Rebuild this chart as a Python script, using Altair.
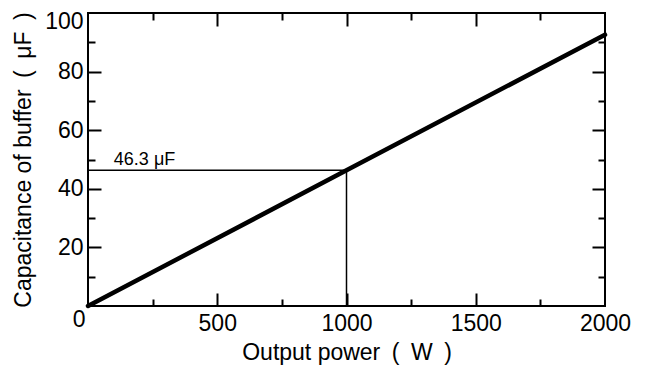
import altair as alt
import pandas as pd

# ---- data ----
power_w = [0, 1000, 2000]
capacitance_uf = [0, 46.3, 92.6]
marker_power = [1000]
marker_cap = [46.3]
marker_text = ["46.3 μF"]
marker_text_x = [100]
x_label_values = [0, 500, 1000, 1500, 2000]
y_label_values = [20, 40, 60, 80, 100]
x_tick_values = [250, 500, 750, 1000, 1250, 1500, 1750]
y_tick_values = [10, 20, 30, 40, 50, 60, 70, 80, 90]
x_title = "Output power\u2002(\u2002W\u2002)"
y_title = "Capacitance of buffer\u2002(\u2002μF\u2002)"

W, H = 517, 293
FONT = "Liberation Sans, Noto Sans CJK JP, sans-serif"

df = pd.DataFrame({"p": power_w, "c": capacitance_uf})
xs = alt.Scale(domain=[0, 2000], nice=False, zero=False)
ys = alt.Scale(domain=[0, 100], nice=False)

base = alt.Chart(df)

main = base.mark_line(color="black", strokeWidth=4.5, strokeCap="round").encode(
    x=alt.X("p:Q", scale=xs, axis=alt.Axis(
        values=x_label_values, ticks=False, domain=False, grid=False, format="d",
        title=x_title, titleFont=FONT, titleFontSize=23, titleFontWeight="normal",
        titleColor="black", titlePadding=6,
        labelFont=FONT, labelFontSize=23, labelColor="black",
        labelPadding={"condition": {"test": "datum.value === 0", "value": 2}, "value": 6},
        labelOffset={"condition": {"test": "datum.value === 0", "value": -3}, "value": 0},
        labelAlign={"condition": {"test": "datum.value === 0", "value": "right"}, "value": "center"},
        labelFlush=False, labelOverlap=False)),
    y=alt.Y("c:Q", scale=ys, axis=alt.Axis(
        values=y_label_values, ticks=False, domain=False, grid=False, format="d",
        title=y_title, titleFont=FONT, titleFontSize=23, titleFontWeight="normal",
        titleColor="black", titlePadding=9,
        labelFont=FONT, labelFontSize=23, labelColor="black", labelPadding=5,
        labelFlush=True, labelFlushOffset=3, labelOverlap=False)),
)


def tick_layer(x_orient, y_orient):
    return base.mark_line(strokeOpacity=0).encode(
        x=alt.X("p:Q", scale=xs, axis=alt.Axis(
            orient=x_orient, offset=-H, values=x_tick_values, labels=False,
            domain=False, grid=False, title="", tickColor="black", tickWidth=2,
            tickSize={"condition": {"test": "datum.value % 500 === 0", "value": 13}, "value": 7})),
        y=alt.Y("c:Q", scale=ys, axis=alt.Axis(
            orient=y_orient, offset=-W, values=y_tick_values, labels=False,
            domain=False, grid=False, title="", tickColor="black", tickWidth=2,
            tickSize={"condition": {"test": "datum.value % 20 === 0", "value": 13}, "value": 7})),
    )


ticks_a = tick_layer("top", "right")    # inward ticks at bottom and left edges
ticks_b = tick_layer("bottom", "left")  # inward ticks at top and right edges

hdf = pd.DataFrame({"x0": [0], "x1": marker_power, "y": marker_cap})
vdf = pd.DataFrame({"x": marker_power, "y0": [0], "y1": marker_cap})
tdf = pd.DataFrame({"x": marker_text_x, "y": marker_cap, "t": marker_text})

hrule = alt.Chart(hdf).mark_rule(color="black", strokeWidth=1.5).encode(
    x=alt.X("x0:Q", scale=xs, axis=None), x2="x1:Q",
    y=alt.Y("y:Q", scale=ys, axis=None))
vrule = alt.Chart(vdf).mark_rule(color="black", strokeWidth=1.5).encode(
    x=alt.X("x:Q", scale=xs, axis=None),
    y=alt.Y("y0:Q", scale=ys, axis=None), y2="y1:Q")
label = alt.Chart(tdf).mark_text(
    align="left", baseline="bottom", dy=-1, fontSize=18, font=FONT, color="black"
).encode(
    x=alt.X("x:Q", scale=xs, axis=None),
    y=alt.Y("y:Q", scale=ys, axis=None),
    text="t:N")

chart = alt.layer(hrule, vrule, main, ticks_a, ticks_b, label).resolve_axis(
    x="independent", y="independent"
).properties(
    width=W, height=H,
    padding={"left": 80, "top": 5, "right": 30, "bottom": 64},
    autosize=alt.AutoSizeParams(type="none"),
    background="white",
).configure_view(stroke="black", strokeWidth=2)

chart.save("out.html", embed_options={"renderer": "svg", "actions": False})
